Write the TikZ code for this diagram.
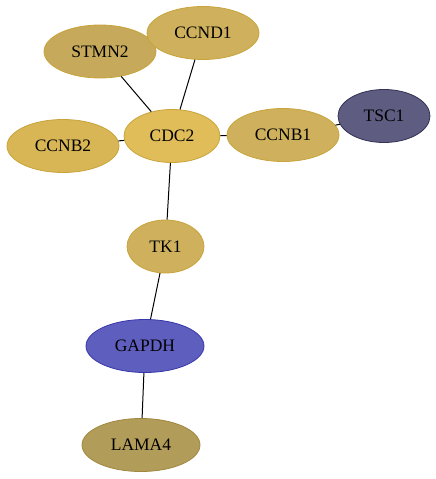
\documentclass[tikz,border=0pt]{standalone}
\usepackage{fontspec}
\setmainfont{Liberation Serif}
\usetikzlibrary{shapes.geometric}
\definecolor{tanA}{RGB}{207,177,93}
\definecolor{tanB}{RGB}{198,169,90}
\definecolor{tanC}{RGB}{216,182,86}
\definecolor{cdcF}{RGB}{225,189,90}
\definecolor{goldS}{RGB}{200,164,58}
\definecolor{tscF}{RGB}{94,92,128}
\definecolor{tscS}{RGB}{50,50,85}
\definecolor{gapF}{RGB}{94,94,190}
\definecolor{gapS}{RGB}{55,55,170}
\definecolor{lamF}{RGB}{178,156,90}
\definecolor{lamS}{RGB}{160,135,62}
\tikzset{
  gene/.style={ellipse, draw=goldS, fill=tanA, line width=0.8pt, inner sep=0pt,
    minimum height=53pt, font=\fontsize{17.5pt}{20pt}\selectfont, text=black},
  link/.style={draw=black, line width=1pt}
}
\begin{document}
\begin{tikzpicture}[x=1pt,y=-1pt]
\useasboundingbox (0,0) rectangle (436,479);
\node[gene, fill=tanB, minimum width=112pt] (STMN2) at (100,51.5) {STMN2};
\node[gene, fill=tanA, minimum width=112pt] (CCND1) at (203,33) {CCND1};
\node[gene, fill=tanC, minimum width=112pt] (CCNB2) at (63,146) {CCNB2};
\node[gene, fill=tanA, minimum width=112pt] (CCNB1) at (283,135) {CCNB1};
\node[gene, fill=cdcF, minimum width=96pt] (CDC2) at (172,136) {CDC2};
\node[gene, fill=tscF, draw=tscS, minimum width=92pt] (TSC1) at (384,116) {TSC1};
\node[gene, fill=tanA, minimum width=77pt] (TK1) at (165.5,246.5) {TK1};
\node[gene, fill=gapF, draw=gapS, minimum width=118pt] (GAPDH) at (145,346) {GAPDH};
\node[gene, fill=lamF, draw=lamS, minimum width=118pt] (LAMA4) at (141,445) {LAMA4};
\draw[link] (CDC2) -- (STMN2);
\draw[link] (CDC2) -- (CCND1);
\draw[link] (CDC2) -- (CCNB2);
\draw[link] (CDC2) -- (CCNB1);
\draw[link] (CCNB1) -- (TSC1);
\draw[link] (CDC2) -- (TK1);
\draw[link] (TK1) -- (GAPDH);
\draw[link] (GAPDH) -- (LAMA4);
\end{tikzpicture}
\end{document}
